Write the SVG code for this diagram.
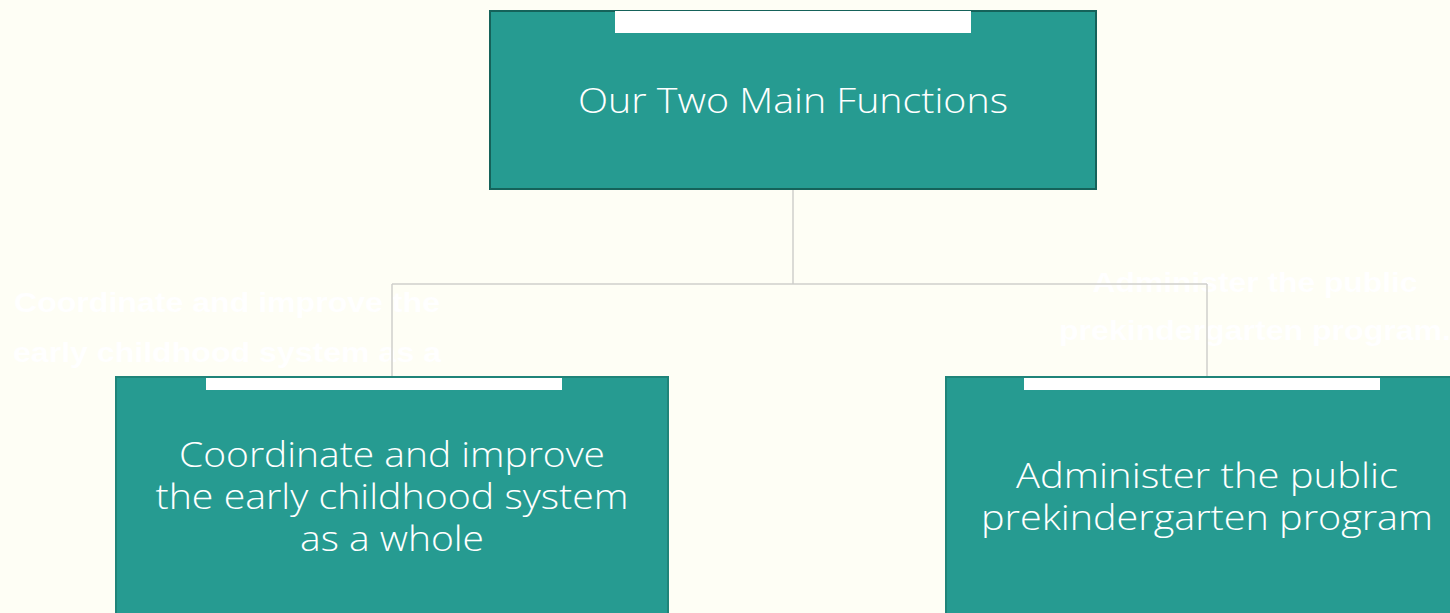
<svg xmlns="http://www.w3.org/2000/svg" width="1450" height="613" viewBox="0 0 1450 613">
<style>
.bg{fill:#FEFEF5}
.box{fill:#269B91}
.top{stroke:#15625A;stroke-width:2}
.sub{stroke:#1F8479;stroke-width:2}
.tab{fill:#FFFFFF}
.lbl{font-family:"Open Sans","Liberation Sans",sans-serif;font-weight:300;fill:#FFFFFF;text-anchor:middle}
.ghost{font-family:"Liberation Sans",Arial,sans-serif;font-weight:bold;font-size:28px;fill:#FFFFFF;text-anchor:middle}
.conn{fill:none;stroke:#CFCFCB;stroke-width:1.5}
</style>
<rect class="bg" x="0" y="0" width="1450" height="613"/>
<g id="ghost-text">
<text class="ghost" x="227" y="312" textLength="426" lengthAdjust="spacingAndGlyphs">Coordinate and improve the</text>
<text class="ghost" x="227" y="362" textLength="428" lengthAdjust="spacingAndGlyphs">early childhood system as a</text>
<text class="ghost" x="1255" y="292" textLength="325" lengthAdjust="spacingAndGlyphs">Administer the public</text>
<text class="ghost" x="1255" y="340" textLength="392" lengthAdjust="spacingAndGlyphs">prekindergarten program.</text>
</g>
<g id="connectors">
<path class="conn" d="M793 190 V284 M392 284 H1207 M392 284 V377 M1207 284 V377"/>
</g>
<g id="node-main">
<rect class="box top" x="490" y="11" width="606" height="178"/>
<rect class="tab" x="615" y="11" width="356" height="22"/>
<text class="lbl" x="793" y="113" font-size="34" textLength="430" lengthAdjust="spacingAndGlyphs">Our Two Main Functions</text>
</g>
<g id="node-coordinate">
<rect class="box sub" x="116" y="377" width="552" height="240"/>
<rect class="tab" x="206" y="378" width="356" height="12"/>
<text class="lbl" x="392" y="467" font-size="34" textLength="426" lengthAdjust="spacingAndGlyphs">Coordinate and improve</text>
<text class="lbl" x="392" y="509" font-size="34" textLength="473" lengthAdjust="spacingAndGlyphs">the early childhood system</text>
<text class="lbl" x="392" y="551" font-size="34" textLength="184" lengthAdjust="spacingAndGlyphs">as a whole</text>
</g>
<g id="node-administer">
<rect class="box sub" x="946" y="377" width="510" height="240"/>
<rect class="tab" x="1024" y="378" width="356" height="12"/>
<text class="lbl" x="1207" y="488" font-size="34" textLength="382" lengthAdjust="spacingAndGlyphs">Administer the public</text>
<text class="lbl" x="1207" y="530" font-size="34" textLength="452" lengthAdjust="spacingAndGlyphs">prekindergarten program</text>
</g>
</svg>
